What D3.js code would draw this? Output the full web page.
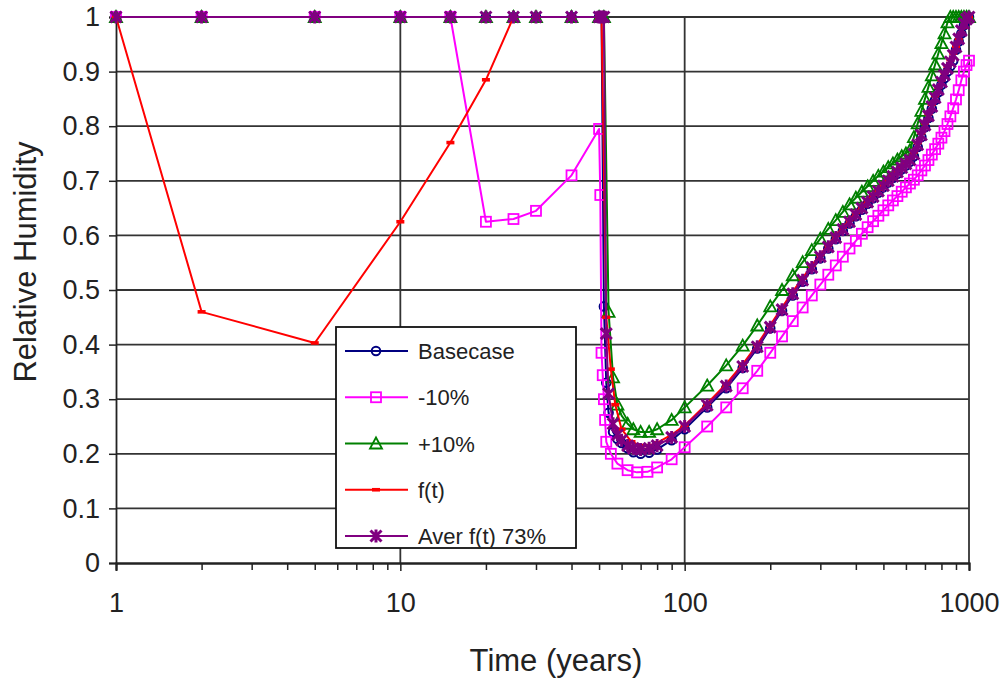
<!DOCTYPE html>
<html>
<head>
<meta charset="utf-8">
<script src="https://cdn.jsdelivr.net/npm/d3@7"></script>
<style>
  html, body { margin: 0; padding: 0; background: #fff; }
  svg { display: block; font-family: "Liberation Sans", Arial, sans-serif; }
</style>
</head>
<body>
<svg id="chart" width="1007" height="678"></svg>
<script>
// ---------------- DATA ----------------
const xTickLabels = ["1", "10", "100", "1000"];
const xMajorTicks = [1, 10, 100, 1000];
const yTickValues = [0, 0.1, 0.2, 0.3, 0.4, 0.5, 0.6, 0.7, 0.8, 0.9, 1];
const yTickLabels = ["0", "0.1", "0.2", "0.3", "0.4", "0.5", "0.6", "0.7", "0.8", "0.9", "1"];
const seriesNames = ["Basecase", "-10%", "+10%", "f(t)", "Aver f(t) 73%"];

// shared time grid of the recovery part (years)
const timeRise = [100, 120, 140, 160, 180, 200, 220, 240, 260, 280, 300, 320, 340, 360, 380, 400,
  420, 440, 460, 480, 500, 520, 540, 560, 580, 600, 620, 640, 660, 680, 700, 720, 740, 760, 780,
  800, 820, 840, 860, 880, 900, 920, 940, 960, 980, 1000];

// Basecase
const basecaseTimeEarly = [1, 2, 5, 10, 15, 20, 25, 30, 40, 50, 51, 52, 53, 54, 56, 58, 60, 63, 66, 70, 75, 80, 90];
const basecaseEarly = [1, 1, 1, 1, 1, 1, 1, 1, 1, 1, 1, 0.47, 0.33, 0.275, 0.24, 0.227, 0.22, 0.21, 0.203, 0.2, 0.202, 0.208, 0.225];
const basecaseRise = [0.245, 0.285, 0.32, 0.357, 0.393, 0.43, 0.462, 0.49, 0.515, 0.538, 0.558, 0.576, 0.593,
  0.608, 0.622, 0.635, 0.647, 0.658, 0.668, 0.678, 0.688, 0.697, 0.705, 0.713, 0.721, 0.728, 0.735, 0.745,
  0.762, 0.78, 0.798, 0.815, 0.832, 0.848, 0.862, 0.876, 0.888, 0.9, 0.91, 0.92, 0.94, 0.955, 0.97, 0.985, 0.995, 1.0];

// -10%
const minus10TimeEarly = [1, 2, 5, 10, 15, 20, 25, 30, 40, 50, 50.5, 51, 51.5, 52, 52.5, 53, 55, 58, 63, 68, 74, 80, 90];
const minus10Early = [1, 1, 1, 1, 1, 0.625, 0.63, 0.645, 0.71, 0.795, 0.674, 0.385, 0.344, 0.3, 0.262, 0.222, 0.2, 0.182, 0.17, 0.166, 0.167, 0.175, 0.19];
const minus10Rise = [0.212, 0.25, 0.285, 0.32, 0.352, 0.385, 0.415, 0.443, 0.468, 0.49, 0.51, 0.528, 0.545,
  0.561, 0.576, 0.59, 0.603, 0.615, 0.626, 0.636, 0.646, 0.655, 0.664, 0.672, 0.68, 0.688, 0.695, 0.702,
  0.71, 0.719, 0.728, 0.738, 0.748, 0.758, 0.768, 0.779, 0.791, 0.804, 0.818, 0.833, 0.849, 0.866, 0.884, 0.9, 0.912, 0.92];

// +10%
const plus10TimeEarly = [1, 2, 5, 10, 15, 20, 25, 30, 40, 50, 52, 54, 56, 58, 60, 63, 66, 70, 75, 80, 90];
const plus10Early = [1, 1, 1, 1, 1, 1, 1, 1, 1, 1, 1, 0.46, 0.34, 0.29, 0.27, 0.255, 0.245, 0.24, 0.24, 0.245, 0.262];
const plus10Rise = [0.285, 0.325, 0.362, 0.398, 0.435, 0.47, 0.5, 0.527, 0.551, 0.573, 0.594, 0.612, 0.628,
  0.643, 0.657, 0.669, 0.68, 0.69, 0.7, 0.709, 0.717, 0.725, 0.732, 0.739, 0.745, 0.75, 0.756, 0.78,
  0.805, 0.828, 0.85, 0.872, 0.893, 0.913, 0.933, 0.952, 0.97, 0.99, 1, 1, 1, 1, 1, 1, 1, 1];

// f(t)
const ftTimeEarly = [1, 2, 5, 10, 15, 20, 25, 30, 40, 50, 51, 53, 55, 57, 60, 65, 70, 75, 80, 90];
const ftEarly = [1, 0.46, 0.403, 0.625, 0.77, 0.885, 1, 1, 1, 1, 1, 0.45, 0.355, 0.29, 0.245, 0.222, 0.215, 0.215, 0.22, 0.235];
const ftRise = [0.252, 0.292, 0.328, 0.364, 0.4, 0.436, 0.468, 0.497, 0.522, 0.545, 0.565, 0.583, 0.6,
  0.615, 0.629, 0.642, 0.654, 0.665, 0.675, 0.685, 0.695, 0.704, 0.712, 0.72, 0.728, 0.735, 0.742, 0.753,
  0.77, 0.788, 0.806, 0.823, 0.84, 0.856, 0.871, 0.885, 0.898, 0.91, 0.922, 0.934, 0.946, 0.958, 0.97, 0.982, 0.992, 1.0];

// Aver f(t) 73%
const averTimeEarly = [1, 2, 5, 10, 15, 20, 25, 30, 40, 50, 51, 52, 53, 54, 56, 58, 60, 63, 66, 70, 75, 80, 90];
const averEarly = [1, 1, 1, 1, 1, 1, 1, 1, 1, 1, 1, 1, 0.42, 0.31, 0.255, 0.235, 0.225, 0.215, 0.21, 0.208, 0.21, 0.215, 0.23];
const averRise = [0.25, 0.289, 0.324, 0.36, 0.396, 0.432, 0.464, 0.493, 0.518, 0.541, 0.561, 0.579, 0.596,
  0.611, 0.625, 0.638, 0.65, 0.661, 0.671, 0.681, 0.691, 0.7, 0.708, 0.716, 0.724, 0.731, 0.738, 0.749,
  0.766, 0.784, 0.802, 0.819, 0.836, 0.852, 0.867, 0.881, 0.894, 0.906, 0.918, 0.93, 0.945, 0.96, 0.975, 0.988, 0.996, 1.0];

// ---------------- BUILD ----------------
function build(tEarly, vEarly, vRise) {
  const pts = tEarly.map((t, i) => ({ t: t, v: vEarly[i] }));
  timeRise.forEach((t, i) => pts.push({ t: t, v: vRise[i] }));
  return pts;
}
const series = [
  { name: seriesNames[0], color: "#000080", marker: "circle", data: build(basecaseTimeEarly, basecaseEarly, basecaseRise) },
  { name: seriesNames[1], color: "#ff00ff", marker: "square", data: build(minus10TimeEarly, minus10Early, minus10Rise) },
  { name: seriesNames[2], color: "#008000", marker: "triangle", data: build(plus10TimeEarly, plus10Early, plus10Rise) },
  { name: seriesNames[3], color: "#ff0000", marker: "dash", data: build(ftTimeEarly, ftEarly, ftRise) },
  { name: seriesNames[4], color: "#800080", marker: "star", data: build(averTimeEarly, averEarly, averRise) }
];

const svg = d3.select("#chart");
const x = d3.scaleLog().domain([1, 1000]).range([116, 969]);
const y = d3.scaleLinear().domain([0, 1]).range([563, 17]);

// gridlines
const grid = svg.append("g");
grid.selectAll("line.h").data(yTickValues.filter(v => v > 0)).enter().append("line")
  .attr("x1", x(1)).attr("x2", x(1000)).attr("y1", d => y(d)).attr("y2", d => y(d))
  .attr("stroke", "#333").attr("stroke-width", 1.8);
grid.selectAll("line.v").data(xMajorTicks.filter(v => v > 1)).enter().append("line")
  .attr("x1", d => x(d)).attr("x2", d => x(d)).attr("y1", y(0)).attr("y2", y(1))
  .attr("stroke", "#333").attr("stroke-width", 1.8);

// axes
const minorTicks = [];
[1, 10, 100].forEach(dec => { for (let k = 2; k <= 9; k++) minorTicks.push(dec * k); });
const xAxisMinor = d3.axisBottom(x).tickValues(minorTicks).tickSize(7).tickFormat("");
const xAxis = d3.axisBottom(x).tickValues(xMajorTicks).tickSize(8).tickPadding(22)
  .tickFormat((d, i) => xTickLabels[i]);
const gxm = svg.append("g").attr("transform", `translate(0,${y(0)})`).call(xAxisMinor);
const gx = svg.append("g").attr("transform", `translate(0,${y(0)})`).call(xAxis);
[gx, gxm].forEach(g => {
  g.select(".domain").attr("stroke", "#222").attr("stroke-width", 1.8);
  g.selectAll(".tick line").attr("stroke", "#222").attr("stroke-width", 1.5);
});
gx.selectAll(".tick text").attr("font-size", 27).attr("fill", "#222")
  .attr("font-family", "Liberation Sans, Arial, sans-serif");

const yAxis = d3.axisLeft(y).tickValues(yTickValues).tickSize(7).tickPadding(9)
  .tickFormat((d, i) => yTickLabels[i]);
const gy = svg.append("g").attr("transform", `translate(${x(1)},0)`).call(yAxis);
gy.select(".domain").attr("stroke", "#222").attr("stroke-width", 1.8);
gy.selectAll(".tick line").attr("stroke", "#222").attr("stroke-width", 1.5);
gy.selectAll(".tick text").attr("font-size", 27).attr("fill", "#222")
  .attr("font-family", "Liberation Sans, Arial, sans-serif");

// axis titles
svg.append("text").attr("x", 556).attr("y", 671).attr("text-anchor", "middle")
  .attr("font-size", 31).attr("fill", "#222").text("Time (years)");
svg.append("text").attr("transform", `translate(36,${262}) rotate(-90)`).attr("text-anchor", "middle")
  .attr("font-size", 31).attr("fill", "#222").text("Relative Humidity");

// markers
function drawMarker(g, type, color, cx, cy) {
  if (type === "circle") {
    g.append("circle").attr("cx", cx).attr("cy", cy).attr("r", 4.3)
      .attr("fill", "none").attr("stroke", color).attr("stroke-width", 2);
  } else if (type === "square") {
    g.append("rect").attr("x", cx - 5).attr("y", cy - 5).attr("width", 10).attr("height", 10)
      .attr("fill", "none").attr("stroke", color).attr("stroke-width", 1.8);
  } else if (type === "triangle") {
    g.append("path").attr("d", `M${cx},${cy - 6}L${cx + 6},${cy + 5}L${cx - 6},${cy + 5}Z`)
      .attr("fill", "none").attr("stroke", color).attr("stroke-width", 1.8);
  } else if (type === "dash") {
    g.append("rect").attr("x", cx - 4).attr("y", cy - 1.8).attr("width", 8).attr("height", 3.6)
      .attr("fill", color);
  } else if (type === "star") {
    g.append("path").attr("d", `M${cx - 5.5},${cy - 5.5}L${cx + 5.5},${cy + 5.5}M${cx - 5.5},${cy + 5.5}L${cx + 5.5},${cy - 5.5}M${cx},${cy - 6.5}L${cx},${cy + 6.5}`)
      .attr("fill", "none").attr("stroke", color).attr("stroke-width", 3);
  }
}

const line = d3.line().x(d => x(d.t)).y(d => y(d.v));
const plot = svg.append("g");
series.forEach(s => {
  const g = plot.append("g");
  g.append("path").datum(s.data).attr("d", line).attr("fill", "none")
    .attr("stroke", s.color).attr("stroke-width", 2).attr("stroke-linejoin", "round");
  s.data.forEach(d => drawMarker(g, s.marker, s.color, x(d.t), y(d.v)));
});

// legend
const lg = svg.append("g");
lg.append("rect").attr("x", 336).attr("y", 327).attr("width", 240).attr("height", 221)
  .attr("fill", "#fff").attr("stroke", "#111").attr("stroke-width", 1.8);
const legendY = d3.scalePoint().domain(seriesNames).range([351, 536]);
series.forEach(s => {
  const cy = legendY(s.name);
  const g = lg.append("g");
  g.append("line").attr("x1", 345).attr("x2", 408).attr("y1", cy).attr("y2", cy)
    .attr("stroke", s.color).attr("stroke-width", 2);
  drawMarker(g, s.marker, s.color, 376, cy);
  g.append("text").attr("x", 418).attr("y", cy + 8).attr("font-size", 22).attr("fill", "#222").text(s.name);
});
</script>
</body>
</html>
